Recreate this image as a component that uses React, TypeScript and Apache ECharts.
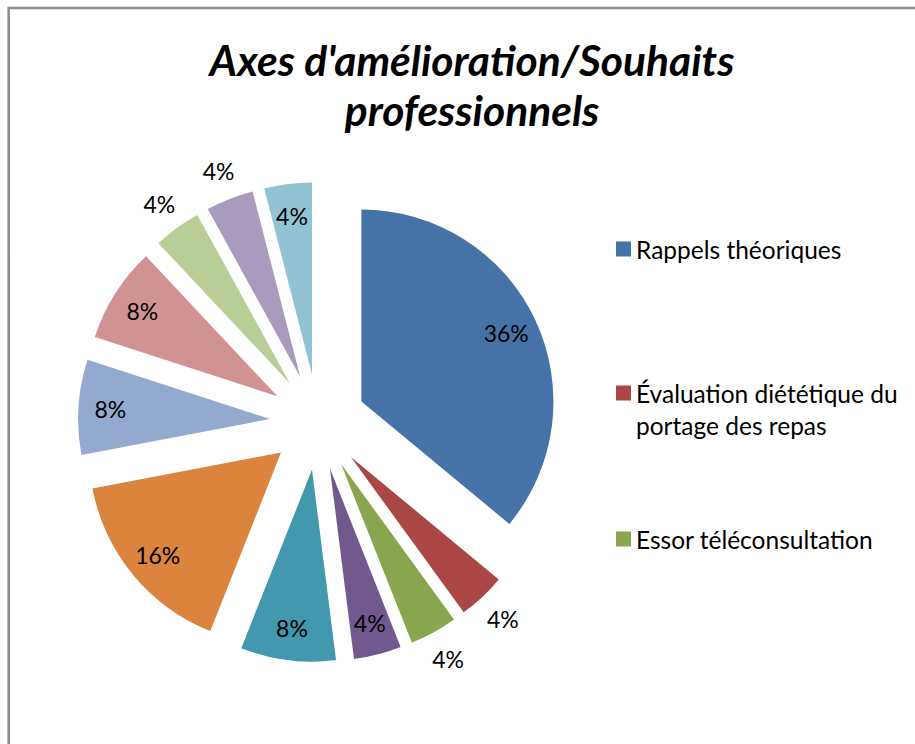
import React, { useEffect, useRef } from "react";
import * as echarts from "echarts";

const TITLE = "Axes d'amélioration/Souhaits\nprofessionnels";
const categories = [
  "Rappels théoriques",
  "Évaluation diététique du portage des repas",
  "Essor téléconsultation",
  "Axe 4",
  "Axe 5",
  "Axe 6",
  "Axe 7",
  "Axe 8",
  "Axe 9",
  "Axe 10",
  "Axe 11",
];
const values = [36, 4, 4, 4, 8, 16, 8, 8, 4, 4, 4];
const colors = [
  "#4572A7", "#AA4643", "#89A54E", "#71588F", "#4198AF", "#DB843D",
  "#93A9CF", "#D19392", "#B9CD96", "#A99BBD", "#92C3D4",
];
// label placement: true = outside the slice
const outsideLabel = [false, true, true, false, false, false, false, false, true, true, false];
const legendNames = categories.slice(0, 3);

const FONT = "Lato";
const CX = 318;
const CY = 422;
const R = 192;
const OFFSET = 48;

export default function App() {
  const ref = useRef<HTMLDivElement>(null);
  useEffect(() => {
    if (!ref.current) return;
    const chart = echarts.init(ref.current, null, { renderer: "svg" });
    const labelStyle = {
      color: "#000",
      fontFamily: FONT,
      fontSize: 23,
      formatter: (p: any) => p.value + "%",
    };
    const mkData = (mode: "main" | "inner" | "outer") =>
      values.map((v, i) => ({
        name: categories[i],
        value: v,
        selected: true,
        itemStyle:
          mode === "main" ? { color: colors[i] } : { color: "rgba(0,0,0,0)" },
        label: {
          show:
            mode === "inner" ? !outsideLabel[i] : mode === "outer" ? outsideLabel[i] : false,
        },
      }));
    const base = {
      type: "pie",
      center: [CX, CY],
      startAngle: 90,
      clockwise: true,
      selectedMode: "multiple",
      selectedOffset: OFFSET,
      avoidLabelOverlap: false,
      labelLine: { show: false },
      emphasis: { disabled: true },
      select: { itemStyle: {} },
      silent: true,
    };
    const legendText = {
      fontFamily: FONT,
      fontSize: 24.5,
      color: "#000",
    };
    const legendBase = {
      orient: "vertical",
      left: 616,
      padding: 0,
      icon: "rect",
      itemWidth: 15,
      itemHeight: 15,
      selectedMode: false,
    };
    chart.setOption({
      animation: false,
      graphic: [
        {
          type: "rect",
          shape: { x: 8.7, y: 8, width: 2000, height: 2000 },
          style: { fill: "none", stroke: "#8d8d8d", lineWidth: 2.6 },
          z: -10,
          silent: true,
        },
      ],
      title: {
        text: TITLE,
        left: 467,
        top: 29,
        textAlign: "center",
        textStyle: {
          fontFamily: FONT,
          fontSize: 42.5,
          fontWeight: "bold",
          fontStyle: "italic",
          lineHeight: 50,
          color: "#000",
        },
      },
      legend: [
        {
          ...legendBase,
          data: [legendNames[0]],
          top: 249 - 15,
          textStyle: { ...legendText, lineHeight: 30 },
        },
        {
          ...legendBase,
          data: [legendNames[1]],
          top: 393 - 48,
          formatter: () => "\nÉvaluation diététique du\nportage des repas",
          textStyle: { ...legendText, lineHeight: 32 },
        },
        {
          ...legendBase,
          data: [legendNames[2]],
          top: 539 - 15,
          textStyle: { ...legendText, lineHeight: 30 },
        },
      ],
      series: [
        {
          ...base,
          name: "main",
          radius: R,
          label: { show: false },
          data: mkData("main"),
        },
        {
          ...base,
          name: "inner",
          radius: [122, R],
          label: { ...labelStyle, position: "inside" },
          data: mkData("inner"),
        },
        {
          ...base,
          name: "outer",
          radius: [198, 240],
          label: { ...labelStyle, position: "inside" },
          data: mkData("outer"),
        },
      ],
    });
    return () => chart.dispose();
  }, []);
  return (
    <div
      ref={ref}
      style={{ position: "absolute", left: 0, top: 0, width: 915, height: 744, background: "#fff" }}
    />
  );
}
